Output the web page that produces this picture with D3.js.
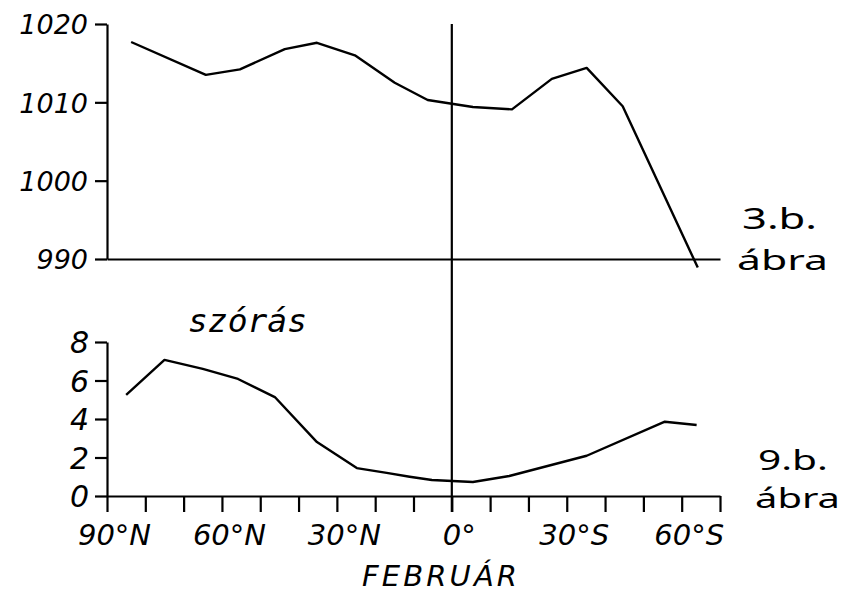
<!DOCTYPE html>
<html>
<head>
<meta charset="utf-8">
<script src="https://cdn.jsdelivr.net/npm/d3@7"></script>
<style>
  html, body { margin: 0; padding: 0; background: #fff; }
  svg { display: block; }
</style>
</head>
<body>
<svg id="chart" width="845" height="594"></svg>
<script>
// ---- Data ----
// Upper panel: mean sea-level pressure (hPa), February, by latitude (+N / -S)
const pressureLat   = [83.7, 64.2, 55.3, 43.6, 35.2, 25.3, 14.9, 6.3, -5.5, -15.7, -26.1, -35.2, -44.6, -64.2];
const pressureValue = [1017.7, 1013.5, 1014.2, 1016.8, 1017.6, 1016.0, 1012.5, 1010.3, 1009.4, 1009.1, 1013.0, 1014.4, 1009.5, 988.9];

// Lower panel: standard deviation ("szórás")
const stdLat   = [85, 75, 65, 55.8, 46.2, 35.2, 24.8, 17, 11, 5.2, -5.5, -15, -35.2, -55.6, -63.9];
const stdValue = [5.25, 7.07, 6.6, 6.08, 5.14, 2.8, 1.45, 1.2, 1.0, 0.83, 0.73, 1.04, 2.09, 3.86, 3.69];

const pressureTicks = [990, 1000, 1010, 1020];
const stdTicks      = [0, 2, 4, 6, 8];
const latTicks      = [90, 80, 70, 60, 50, 40, 30, 20, 10, 0, -10, -20, -30, -40, -50, -60, -70];
const latLabels     = {90: "90°N", 60: "60°N", 30: "30°N", 0: "0°", "-30": "30°S", "-60": "60°S"};

const xTitle     = "FEBRUÁR";
const panelTitle = "szórás";
const figTop     = ["3.b.", "ábra"];
const figBottom  = ["9.b.", "ábra"];

// ---- Drawing ----
const svg = d3.select("#chart");
const font = "'DejaVu Sans', sans-serif";

const x    = d3.scaleLinear().domain([90, -70]).range([107, 720]);
const yTop = d3.scaleLinear().domain([990, 1020]).range([259, 24]);
const yBot = d3.scaleLinear().domain([0, 8]).range([496, 342]);

function styleAxis(g) {
  g.selectAll("path.domain").attr("stroke", "#000").attr("stroke-width", 2.2);
  g.selectAll(".tick line").attr("stroke", "#000").attr("stroke-width", 2.2);
  g.selectAll("text").attr("fill", "#000").attr("font-family", font).attr("font-style", "italic");
}

// Upper y axis
const gTopY = svg.append("g").attr("transform", `translate(${x(90)},0)`)
  .call(d3.axisLeft(yTop).tickValues(pressureTicks).tickSize(12).tickSizeOuter(0).tickPadding(7).tickFormat(d3.format("d")));
styleAxis(gTopY);
gTopY.selectAll("text").attr("font-size", 27).attr("dy", "0.36em");

// Upper x baseline (no ticks)
const gTopX = svg.append("g").attr("transform", `translate(0,${yTop(990)})`)
  .call(d3.axisBottom(x).tickValues([]).tickSizeOuter(0));
styleAxis(gTopX);

// Lower y axis
const gBotY = svg.append("g").attr("transform", `translate(${x(90)},0)`)
  .call(d3.axisLeft(yBot).tickValues(stdTicks).tickSize(12).tickSizeOuter(0).tickPadding(6).tickFormat(d3.format("d")));
styleAxis(gBotY);
gBotY.selectAll("text").attr("font-size", 30).attr("dy", "0.36em");

// Lower x axis
const gBotX = svg.append("g").attr("transform", `translate(0,${yBot(0)})`)
  .call(d3.axisBottom(x).tickValues(latTicks).tickSize(16).tickSizeOuter(0)
        .tickFormat(d => latLabels[d] || ""));
styleAxis(gBotX);
gBotX.selectAll("text").attr("font-size", 29).attr("y", 49).attr("dy", 0).attr("dx", 7);

// Equator line
svg.append("line")
  .attr("x1", x(0)).attr("x2", x(0))
  .attr("y1", yTop(1020)).attr("y2", yBot(0) + 16)
  .attr("stroke", "#000").attr("stroke-width", 2.2);

// Data lines
svg.append("path")
  .datum(pressureLat.map((l, i) => [l, pressureValue[i]]))
  .attr("fill", "none").attr("stroke", "#000").attr("stroke-width", 2.4)
  .attr("stroke-linejoin", "round")
  .attr("d", d3.line().x(d => x(d[0])).y(d => yTop(d[1])));

svg.append("path")
  .datum(stdLat.map((l, i) => [l, stdValue[i]]))
  .attr("fill", "none").attr("stroke", "#000").attr("stroke-width", 2.4)
  .attr("stroke-linejoin", "round")
  .attr("d", d3.line().x(d => x(d[0])).y(d => yBot(d[1])));

// Texts
svg.append("text").text(panelTitle)
  .attr("x", 188).attr("y", 332).attr("font-family", "'DejaVu Sans Mono', monospace")
  .attr("font-style", "italic").attr("font-size", 32)
  .attr("textLength", 119).attr("lengthAdjust", "spacingAndGlyphs");

svg.append("text").text(xTitle)
  .attr("x", 362).attr("y", 586).attr("font-family", font)
  .attr("font-style", "italic").attr("font-size", 29)
  .attr("textLength", 155).attr("lengthAdjust", "spacing");

const hand = "'Noto Sans', sans-serif";
svg.append("text").text(figTop[0]).attr("x", 742).attr("y", 229)
  .attr("font-family", hand).attr("font-size", 29).attr("textLength", 75).attr("lengthAdjust", "spacingAndGlyphs");
svg.append("text").text(figTop[1]).attr("x", 737).attr("y", 270)
  .attr("font-family", hand).attr("font-size", 28).attr("textLength", 91).attr("lengthAdjust", "spacingAndGlyphs");
svg.append("text").text(figBottom[0]).attr("x", 758).attr("y", 470)
  .attr("font-family", hand).attr("font-size", 27).attr("textLength", 70).attr("lengthAdjust", "spacingAndGlyphs");
svg.append("text").text(figBottom[1]).attr("x", 755).attr("y", 508)
  .attr("font-family", hand).attr("font-size", 27).attr("textLength", 85).attr("lengthAdjust", "spacingAndGlyphs");
</script>
</body>
</html>
